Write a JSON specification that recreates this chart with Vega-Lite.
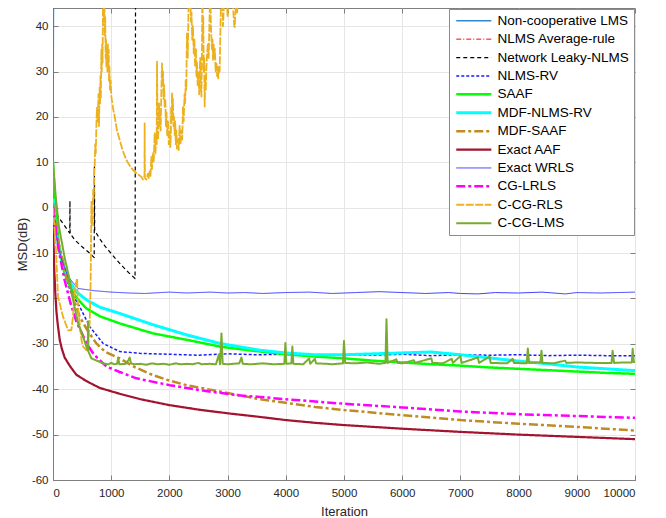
{
  "$schema": "https://vega.github.io/schema/vega-lite/v6.json",
  "width": 582,
  "height": 472,
  "autosize": {"type": "none"},
  "padding": {"left": 53, "top": 8, "right": 31, "bottom": 38},
  "background": "white",
  "config": {
    "font": "Liberation Sans",
    "view": {"stroke": "#7f7f7f", "strokeWidth": 1},
    "axis": {
      "domainColor": "#7f7f7f",
      "tickColor": "#7f7f7f",
      "gridColor": "#e6e6e6",
      "labelColor": "#262626",
      "titleColor": "#262626",
      "labelFontSize": 11.5,
      "titleFontSize": 13,
      "titleFontWeight": "normal",
      "tickSize": -5
    }
  },
  "data": {
    "values": [
      {"s":"Non-cooperative LMS","x":0,"y":11},{"s":"Non-cooperative LMS","x":8,"y":45},{"s":"Non-cooperative LMS","x":15,"y":120},{"s":"Non-cooperative LMS","x":10000,"y":120},

      {"s":"NLMS Average-rule","x":0,"y":0},{"s":"NLMS Average-rule","x":10,"y":-8},{"s":"NLMS Average-rule","x":20,"y":-13},{"s":"NLMS Average-rule","x":40,"y":-19},{"s":"NLMS Average-rule","x":60,"y":-23},{"s":"NLMS Average-rule","x":80,"y":-25.5},{"s":"NLMS Average-rule","x":115,"y":-29.1},{"s":"NLMS Average-rule","x":150,"y":-31},{"s":"NLMS Average-rule","x":200,"y":-33},{"s":"NLMS Average-rule","x":286,"y":-34.8},{"s":"NLMS Average-rule","x":400,"y":-36.8},{"s":"NLMS Average-rule","x":573,"y":-38.2},{"s":"NLMS Average-rule","x":800,"y":-39.7},{"s":"NLMS Average-rule","x":1146,"y":-41},{"s":"NLMS Average-rule","x":1500,"y":-42.2},{"s":"NLMS Average-rule","x":2000,"y":-43.5},{"s":"NLMS Average-rule","x":3000,"y":-45.3},{"s":"NLMS Average-rule","x":4000,"y":-46.8},{"s":"NLMS Average-rule","x":5000,"y":-47.9},{"s":"NLMS Average-rule","x":6000,"y":-48.7},{"s":"NLMS Average-rule","x":7000,"y":-49.4},{"s":"NLMS Average-rule","x":8000,"y":-50},{"s":"NLMS Average-rule","x":9000,"y":-50.5},{"s":"NLMS Average-rule","x":10000,"y":-51},

      {"s":"Network Leaky-NLMS","x":0,"y":0},{"s":"Network Leaky-NLMS","x":100,"y":-2.2},{"s":"Network Leaky-NLMS","x":200,"y":-4},{"s":"Network Leaky-NLMS","x":288,"y":-5.6},{"s":"Network Leaky-NLMS","x":291,"y":1.5},{"s":"Network Leaky-NLMS","x":294,"y":-5.7},{"s":"Network Leaky-NLMS","x":375,"y":-7.1},{"s":"Network Leaky-NLMS","x":500,"y":-8.6},{"s":"Network Leaky-NLMS","x":630,"y":-10},{"s":"Network Leaky-NLMS","x":708,"y":-11},{"s":"Network Leaky-NLMS","x":712,"y":9},{"s":"Network Leaky-NLMS","x":716,"y":-5},{"s":"Network Leaky-NLMS","x":800,"y":-6.8},{"s":"Network Leaky-NLMS","x":900,"y":-8.6},{"s":"Network Leaky-NLMS","x":1000,"y":-10.1},{"s":"Network Leaky-NLMS","x":1100,"y":-11.6},{"s":"Network Leaky-NLMS","x":1200,"y":-13},{"s":"Network Leaky-NLMS","x":1300,"y":-14.3},{"s":"Network Leaky-NLMS","x":1410,"y":-15.6},{"s":"Network Leaky-NLMS","x":1420,"y":60},{"s":"Network Leaky-NLMS","x":10000,"y":60},

      {"s":"NLMS-RV","x":0,"y":0},{"s":"NLMS-RV","x":50,"y":-5},{"s":"NLMS-RV","x":100,"y":-9},{"s":"NLMS-RV","x":200,"y":-14.5},{"s":"NLMS-RV","x":300,"y":-18.5},{"s":"NLMS-RV","x":458,"y":-21.8},{"s":"NLMS-RV","x":630,"y":-26.2},{"s":"NLMS-RV","x":860,"y":-29.9},{"s":"NLMS-RV","x":1146,"y":-31.7},{"s":"NLMS-RV","x":1500,"y":-32.1},{"s":"NLMS-RV","x":2000,"y":-32.3},{"s":"NLMS-RV","x":2500,"y":-32.5},{"s":"NLMS-RV","x":3000,"y":-32.2},{"s":"NLMS-RV","x":3500,"y":-32.4},{"s":"NLMS-RV","x":4000,"y":-32.3},{"s":"NLMS-RV","x":4500,"y":-32.6},{"s":"NLMS-RV","x":5000,"y":-32.4},{"s":"NLMS-RV","x":5500,"y":-32.5},{"s":"NLMS-RV","x":6000,"y":-32.3},{"s":"NLMS-RV","x":6500,"y":-32.6},{"s":"NLMS-RV","x":7000,"y":-32.4},{"s":"NLMS-RV","x":7500,"y":-32.5},{"s":"NLMS-RV","x":8000,"y":-32.4},{"s":"NLMS-RV","x":8500,"y":-32.6},{"s":"NLMS-RV","x":9000,"y":-32.5},{"s":"NLMS-RV","x":9500,"y":-32.6},{"s":"NLMS-RV","x":10000,"y":-32.6},

      {"s":"SAAF","x":0,"y":10},{"s":"SAAF","x":30,"y":3},{"s":"SAAF","x":60,"y":-3},{"s":"SAAF","x":100,"y":-8},{"s":"SAAF","x":150,"y":-12},{"s":"SAAF","x":200,"y":-14.5},{"s":"SAAF","x":300,"y":-17.5},{"s":"SAAF","x":400,"y":-19.8},{"s":"SAAF","x":573,"y":-22.2},{"s":"SAAF","x":800,"y":-23.9},{"s":"SAAF","x":1146,"y":-25.5},{"s":"SAAF","x":1719,"y":-27.7},{"s":"SAAF","x":2292,"y":-29.1},{"s":"SAAF","x":2865,"y":-30.6},{"s":"SAAF","x":3553,"y":-31.7},{"s":"SAAF","x":4000,"y":-32.3},{"s":"SAAF","x":4500,"y":-32.8},{"s":"SAAF","x":5000,"y":-33.2},{"s":"SAAF","x":5500,"y":-33.7},{"s":"SAAF","x":6000,"y":-34.1},{"s":"SAAF","x":6500,"y":-34.5},{"s":"SAAF","x":7000,"y":-34.8},{"s":"SAAF","x":7500,"y":-35.2},{"s":"SAAF","x":8000,"y":-35.5},{"s":"SAAF","x":8500,"y":-35.8},{"s":"SAAF","x":9000,"y":-36.1},{"s":"SAAF","x":9500,"y":-36.4},{"s":"SAAF","x":10000,"y":-36.6},

      {"s":"MDF-NLMS-RV","x":0,"y":2},{"s":"MDF-NLMS-RV","x":50,"y":-5},{"s":"MDF-NLMS-RV","x":100,"y":-9},{"s":"MDF-NLMS-RV","x":200,"y":-13.5},{"s":"MDF-NLMS-RV","x":300,"y":-16.5},{"s":"MDF-NLMS-RV","x":400,"y":-18.5},{"s":"MDF-NLMS-RV","x":573,"y":-20.3},{"s":"MDF-NLMS-RV","x":800,"y":-21.9},{"s":"MDF-NLMS-RV","x":1146,"y":-23.3},{"s":"MDF-NLMS-RV","x":1719,"y":-25.8},{"s":"MDF-NLMS-RV","x":2292,"y":-28},{"s":"MDF-NLMS-RV","x":2865,"y":-29.9},{"s":"MDF-NLMS-RV","x":3553,"y":-31.4},{"s":"MDF-NLMS-RV","x":4000,"y":-32},{"s":"MDF-NLMS-RV","x":4500,"y":-32.4},{"s":"MDF-NLMS-RV","x":5000,"y":-32.4},{"s":"MDF-NLMS-RV","x":5500,"y":-32.2},{"s":"MDF-NLMS-RV","x":6000,"y":-32},{"s":"MDF-NLMS-RV","x":6500,"y":-31.8},{"s":"MDF-NLMS-RV","x":7000,"y":-32.4},{"s":"MDF-NLMS-RV","x":7500,"y":-33.1},{"s":"MDF-NLMS-RV","x":8000,"y":-33.8},{"s":"MDF-NLMS-RV","x":8500,"y":-34.4},{"s":"MDF-NLMS-RV","x":9000,"y":-35.1},{"s":"MDF-NLMS-RV","x":9500,"y":-35.5},{"s":"MDF-NLMS-RV","x":10000,"y":-35.9},

      {"s":"MDF-SAAF","x":0,"y":1},{"s":"MDF-SAAF","x":50,"y":-4},{"s":"MDF-SAAF","x":100,"y":-8},{"s":"MDF-SAAF","x":200,"y":-13.5},{"s":"MDF-SAAF","x":300,"y":-18},{"s":"MDF-SAAF","x":458,"y":-24},{"s":"MDF-SAAF","x":600,"y":-27.2},{"s":"MDF-SAAF","x":745,"y":-29.9},{"s":"MDF-SAAF","x":900,"y":-31.8},{"s":"MDF-SAAF","x":1146,"y":-33.2},{"s":"MDF-SAAF","x":1400,"y":-35.1},{"s":"MDF-SAAF","x":1719,"y":-36.9},{"s":"MDF-SAAF","x":2000,"y":-38.1},{"s":"MDF-SAAF","x":2292,"y":-39.1},{"s":"MDF-SAAF","x":2865,"y":-40.5},{"s":"MDF-SAAF","x":3553,"y":-42.2},{"s":"MDF-SAAF","x":4000,"y":-43},{"s":"MDF-SAAF","x":4500,"y":-43.9},{"s":"MDF-SAAF","x":5000,"y":-44.6},{"s":"MDF-SAAF","x":6000,"y":-45.7},{"s":"MDF-SAAF","x":7000,"y":-46.8},{"s":"MDF-SAAF","x":8000,"y":-47.6},{"s":"MDF-SAAF","x":9000,"y":-48.3},{"s":"MDF-SAAF","x":10000,"y":-49.1},

      {"s":"Exact AAF","x":0,"y":0},{"s":"Exact AAF","x":10,"y":-8},{"s":"Exact AAF","x":20,"y":-13},{"s":"Exact AAF","x":40,"y":-19},{"s":"Exact AAF","x":60,"y":-23},{"s":"Exact AAF","x":80,"y":-25.5},{"s":"Exact AAF","x":115,"y":-29.1},{"s":"Exact AAF","x":150,"y":-31},{"s":"Exact AAF","x":200,"y":-33},{"s":"Exact AAF","x":286,"y":-34.8},{"s":"Exact AAF","x":400,"y":-36.8},{"s":"Exact AAF","x":573,"y":-38.2},{"s":"Exact AAF","x":800,"y":-39.7},{"s":"Exact AAF","x":1146,"y":-41},{"s":"Exact AAF","x":1500,"y":-42.2},{"s":"Exact AAF","x":2000,"y":-43.5},{"s":"Exact AAF","x":2500,"y":-44.5},{"s":"Exact AAF","x":3000,"y":-45.3},{"s":"Exact AAF","x":3553,"y":-46.1},{"s":"Exact AAF","x":4000,"y":-46.8},{"s":"Exact AAF","x":4500,"y":-47.4},{"s":"Exact AAF","x":5000,"y":-47.9},{"s":"Exact AAF","x":6000,"y":-48.7},{"s":"Exact AAF","x":7000,"y":-49.4},{"s":"Exact AAF","x":8000,"y":-50},{"s":"Exact AAF","x":9000,"y":-50.5},{"s":"Exact AAF","x":10000,"y":-51},

      {"s":"Exact WRLS","x":0,"y":0},{"s":"Exact WRLS","x":29,"y":-4.2},{"s":"Exact WRLS","x":100,"y":-9},{"s":"Exact WRLS","x":150,"y":-11.5},{"s":"Exact WRLS","x":258,"y":-15.2},{"s":"Exact WRLS","x":430,"y":-17.8},{"s":"Exact WRLS","x":716,"y":-18.3},{"s":"Exact WRLS","x":1003,"y":-18.6},{"s":"Exact WRLS","x":1300,"y":-18.8},{"s":"Exact WRLS","x":1576,"y":-18.9},{"s":"Exact WRLS","x":2000,"y":-18.6},{"s":"Exact WRLS","x":2300,"y":-18.8},{"s":"Exact WRLS","x":2700,"y":-18.6},{"s":"Exact WRLS","x":3000,"y":-18.8},{"s":"Exact WRLS","x":3300,"y":-18.7},{"s":"Exact WRLS","x":3600,"y":-18.9},{"s":"Exact WRLS","x":4000,"y":-18.7},{"s":"Exact WRLS","x":4400,"y":-18.6},{"s":"Exact WRLS","x":4800,"y":-18.9},{"s":"Exact WRLS","x":5200,"y":-18.7},{"s":"Exact WRLS","x":5600,"y":-18.5},{"s":"Exact WRLS","x":6000,"y":-18.7},{"s":"Exact WRLS","x":6400,"y":-18.9},{"s":"Exact WRLS","x":6800,"y":-18.7},{"s":"Exact WRLS","x":7000,"y":-18.9},{"s":"Exact WRLS","x":7300,"y":-19},{"s":"Exact WRLS","x":7600,"y":-18.7},{"s":"Exact WRLS","x":8000,"y":-18.8},{"s":"Exact WRLS","x":8400,"y":-18.6},{"s":"Exact WRLS","x":8800,"y":-19},{"s":"Exact WRLS","x":9000,"y":-18.7},{"s":"Exact WRLS","x":9400,"y":-18.8},{"s":"Exact WRLS","x":9700,"y":-18.7},{"s":"Exact WRLS","x":10000,"y":-18.6},

      {"s":"CG-LRLS","x":0,"y":0},{"s":"CG-LRLS","x":50,"y":-5},{"s":"CG-LRLS","x":100,"y":-9.5},{"s":"CG-LRLS","x":200,"y":-16},{"s":"CG-LRLS","x":300,"y":-21},{"s":"CG-LRLS","x":400,"y":-25},{"s":"CG-LRLS","x":573,"y":-29.8},{"s":"CG-LRLS","x":700,"y":-32.3},{"s":"CG-LRLS","x":917,"y":-35},{"s":"CG-LRLS","x":1146,"y":-36.2},{"s":"CG-LRLS","x":1432,"y":-37.6},{"s":"CG-LRLS","x":2005,"y":-39.1},{"s":"CG-LRLS","x":2578,"y":-40.3},{"s":"CG-LRLS","x":3151,"y":-41.3},{"s":"CG-LRLS","x":3553,"y":-41.7},{"s":"CG-LRLS","x":4000,"y":-42.2},{"s":"CG-LRLS","x":5000,"y":-43.2},{"s":"CG-LRLS","x":6000,"y":-44},{"s":"CG-LRLS","x":7000,"y":-44.9},{"s":"CG-LRLS","x":8000,"y":-45.5},{"s":"CG-LRLS","x":9000,"y":-45.9},{"s":"CG-LRLS","x":10000,"y":-46.3},

      {"s":"C-CG-RLS","x":0,"y":0},{"s":"C-CG-RLS","x":50,"y":-9},{"s":"C-CG-RLS","x":86,"y":-19.6},{"s":"C-CG-RLS","x":172,"y":-24},{"s":"C-CG-RLS","x":258,"y":-27},{"s":"C-CG-RLS","x":315,"y":-27},{"s":"C-CG-RLS","x":344,"y":-24},{"s":"C-CG-RLS","x":373,"y":-18.1},{"s":"C-CG-RLS","x":413,"y":-15.6},{"s":"C-CG-RLS","x":430,"y":-22},{"s":"C-CG-RLS","x":487,"y":-29},{"s":"C-CG-RLS","x":516,"y":-30.6},{"s":"C-CG-RLS","x":573,"y":-31.4},{"s":"C-CG-RLS","x":602,"y":-30.5},{"s":"C-CG-RLS","x":630,"y":-25.4},{"s":"C-CG-RLS","x":645,"y":-18},{"s":"C-CG-RLS","x":652,"y":-10},{"s":"C-CG-RLS","x":660,"y":1.3},{"s":"C-CG-RLS","x":668,"y":-4},{"s":"C-CG-RLS","x":680,"y":-3},{"s":"C-CG-RLS","x":690,"y":4},{"s":"C-CG-RLS","x":700,"y":2},{"s":"C-CG-RLS","x":708,"y":8},{"s":"C-CG-RLS","x":716,"y":9},{"s":"C-CG-RLS","x":725,"y":14},{"s":"C-CG-RLS","x":735,"y":12},{"s":"C-CG-RLS","x":745,"y":17.9},{"s":"C-CG-RLS","x":755,"y":22},{"s":"C-CG-RLS","x":765,"y":19},{"s":"C-CG-RLS","x":773,"y":21.5},{"s":"C-CG-RLS","x":782,"y":25},{"s":"C-CG-RLS","x":790,"y":18},{"s":"C-CG-RLS","x":802,"y":26.7},{"s":"C-CG-RLS","x":810,"y":23},{"s":"C-CG-RLS","x":815,"y":29},{"s":"C-CG-RLS","x":822,"y":24},{"s":"C-CG-RLS","x":831,"y":34.8},{"s":"C-CG-RLS","x":838,"y":30},{"s":"C-CG-RLS","x":845,"y":36},{"s":"C-CG-RLS","x":852,"y":32},{"s":"C-CG-RLS","x":859,"y":45},{"s":"C-CG-RLS","x":870,"y":52},{"s":"C-CG-RLS","x":877,"y":41},{"s":"C-CG-RLS","x":884,"y":45},{"s":"C-CG-RLS","x":890,"y":38},{"s":"C-CG-RLS","x":897,"y":42},{"s":"C-CG-RLS","x":905,"y":33},{"s":"C-CG-RLS","x":911,"y":37},{"s":"C-CG-RLS","x":917,"y":31.1},{"s":"C-CG-RLS","x":925,"y":35},{"s":"C-CG-RLS","x":935,"y":30},{"s":"C-CG-RLS","x":942,"y":36},{"s":"C-CG-RLS","x":950,"y":30},{"s":"C-CG-RLS","x":957,"y":34.8},{"s":"C-CG-RLS","x":963,"y":28},{"s":"C-CG-RLS","x":970,"y":31},{"s":"C-CG-RLS","x":980,"y":26},{"s":"C-CG-RLS","x":990,"y":28},{"s":"C-CG-RLS","x":1003,"y":24.5},{"s":"C-CG-RLS","x":1030,"y":22},{"s":"C-CG-RLS","x":1060,"y":20.1},{"s":"C-CG-RLS","x":1100,"y":17},{"s":"C-CG-RLS","x":1146,"y":14.9},{"s":"C-CG-RLS","x":1200,"y":12.5},{"s":"C-CG-RLS","x":1261,"y":10.5},{"s":"C-CG-RLS","x":1330,"y":9},{"s":"C-CG-RLS","x":1404,"y":7.9},{"s":"C-CG-RLS","x":1460,"y":7.4},{"s":"C-CG-RLS","x":1518,"y":6.8},{"s":"C-CG-RLS","x":1545,"y":6.2},{"s":"C-CG-RLS","x":1560,"y":6.6},{"s":"C-CG-RLS","x":1572,"y":7},{"s":"C-CG-RLS","x":1575,"y":18.6},{"s":"C-CG-RLS","x":1578,"y":6.6},{"s":"C-CG-RLS","x":1604,"y":6.2},{"s":"C-CG-RLS","x":1630,"y":7.5},{"s":"C-CG-RLS","x":1645,"y":6.5},{"s":"C-CG-RLS","x":1661,"y":8},{"s":"C-CG-RLS","x":1675,"y":7},{"s":"C-CG-RLS","x":1690,"y":11.2},{"s":"C-CG-RLS","x":1700,"y":8.5},{"s":"C-CG-RLS","x":1718,"y":12},{"s":"C-CG-RLS","x":1730,"y":10},{"s":"C-CG-RLS","x":1747,"y":16.4},{"s":"C-CG-RLS","x":1760,"y":12},{"s":"C-CG-RLS","x":1776,"y":16},{"s":"C-CG-RLS","x":1782,"y":14},{"s":"C-CG-RLS","x":1787,"y":32.2},{"s":"C-CG-RLS","x":1795,"y":20},{"s":"C-CG-RLS","x":1805,"y":15},{"s":"C-CG-RLS","x":1815,"y":19},{"s":"C-CG-RLS","x":1822,"y":23},{"s":"C-CG-RLS","x":1830,"y":18},{"s":"C-CG-RLS","x":1840,"y":21},{"s":"C-CG-RLS","x":1850,"y":17},{"s":"C-CG-RLS","x":1862,"y":26},{"s":"C-CG-RLS","x":1873,"y":31.8},{"s":"C-CG-RLS","x":1882,"y":27},{"s":"C-CG-RLS","x":1890,"y":30},{"s":"C-CG-RLS","x":1900,"y":24},{"s":"C-CG-RLS","x":1910,"y":27},{"s":"C-CG-RLS","x":1919,"y":22},{"s":"C-CG-RLS","x":1930,"y":24},{"s":"C-CG-RLS","x":1940,"y":18},{"s":"C-CG-RLS","x":1950,"y":21},{"s":"C-CG-RLS","x":1962,"y":16},{"s":"C-CG-RLS","x":1976,"y":19},{"s":"C-CG-RLS","x":1990,"y":14},{"s":"C-CG-RLS","x":2005,"y":17},{"s":"C-CG-RLS","x":2017,"y":13.4},{"s":"C-CG-RLS","x":2025,"y":16},{"s":"C-CG-RLS","x":2030,"y":22},{"s":"C-CG-RLS","x":2038,"y":19},{"s":"C-CG-RLS","x":2045,"y":25.2},{"s":"C-CG-RLS","x":2052,"y":21},{"s":"C-CG-RLS","x":2060,"y":24},{"s":"C-CG-RLS","x":2070,"y":18},{"s":"C-CG-RLS","x":2080,"y":20},{"s":"C-CG-RLS","x":2091,"y":16},{"s":"C-CG-RLS","x":2100,"y":19},{"s":"C-CG-RLS","x":2110,"y":14},{"s":"C-CG-RLS","x":2120,"y":17},{"s":"C-CG-RLS","x":2130,"y":13},{"s":"C-CG-RLS","x":2148,"y":15},{"s":"C-CG-RLS","x":2160,"y":12.7},{"s":"C-CG-RLS","x":2175,"y":18},{"s":"C-CG-RLS","x":2190,"y":14},{"s":"C-CG-RLS","x":2206,"y":17},{"s":"C-CG-RLS","x":2220,"y":15},{"s":"C-CG-RLS","x":2234,"y":22.3},{"s":"C-CG-RLS","x":2245,"y":19},{"s":"C-CG-RLS","x":2260,"y":25},{"s":"C-CG-RLS","x":2270,"y":23},{"s":"C-CG-RLS","x":2280,"y":28.1},{"s":"C-CG-RLS","x":2290,"y":26},{"s":"C-CG-RLS","x":2302,"y":38.4},{"s":"C-CG-RLS","x":2315,"y":33},{"s":"C-CG-RLS","x":2325,"y":41},{"s":"C-CG-RLS","x":2337,"y":50},{"s":"C-CG-RLS","x":2350,"y":44},{"s":"C-CG-RLS","x":2360,"y":47},{"s":"C-CG-RLS","x":2370,"y":41},{"s":"C-CG-RLS","x":2380,"y":43},{"s":"C-CG-RLS","x":2392,"y":37},{"s":"C-CG-RLS","x":2405,"y":40},{"s":"C-CG-RLS","x":2418,"y":34},{"s":"C-CG-RLS","x":2430,"y":37},{"s":"C-CG-RLS","x":2442,"y":31},{"s":"C-CG-RLS","x":2455,"y":35},{"s":"C-CG-RLS","x":2465,"y":29},{"s":"C-CG-RLS","x":2474,"y":32},{"s":"C-CG-RLS","x":2485,"y":27},{"s":"C-CG-RLS","x":2500,"y":30},{"s":"C-CG-RLS","x":2512,"y":25},{"s":"C-CG-RLS","x":2522,"y":31},{"s":"C-CG-RLS","x":2530,"y":33},{"s":"C-CG-RLS","x":2540,"y":27},{"s":"C-CG-RLS","x":2550,"y":24.5},{"s":"C-CG-RLS","x":2560,"y":35},{"s":"C-CG-RLS","x":2567,"y":50},{"s":"C-CG-RLS","x":2575,"y":38},{"s":"C-CG-RLS","x":2582,"y":42},{"s":"C-CG-RLS","x":2590,"y":30},{"s":"C-CG-RLS","x":2598,"y":33},{"s":"C-CG-RLS","x":2606,"y":22.3},{"s":"C-CG-RLS","x":2615,"y":28},{"s":"C-CG-RLS","x":2625,"y":26},{"s":"C-CG-RLS","x":2636,"y":31.1},{"s":"C-CG-RLS","x":2648,"y":34},{"s":"C-CG-RLS","x":2660,"y":36},{"s":"C-CG-RLS","x":2675,"y":33},{"s":"C-CG-RLS","x":2690,"y":42},{"s":"C-CG-RLS","x":2704,"y":50},{"s":"C-CG-RLS","x":2712,"y":41},{"s":"C-CG-RLS","x":2720,"y":38},{"s":"C-CG-RLS","x":2730,"y":35},{"s":"C-CG-RLS","x":2740,"y":37},{"s":"C-CG-RLS","x":2749,"y":32.6},{"s":"C-CG-RLS","x":2760,"y":36},{"s":"C-CG-RLS","x":2770,"y":33},{"s":"C-CG-RLS","x":2780,"y":35},{"s":"C-CG-RLS","x":2795,"y":30},{"s":"C-CG-RLS","x":2807,"y":32},{"s":"C-CG-RLS","x":2820,"y":29},{"s":"C-CG-RLS","x":2830,"y":31},{"s":"C-CG-RLS","x":2840,"y":28.5},{"s":"C-CG-RLS","x":2852,"y":31},{"s":"C-CG-RLS","x":2864,"y":30},{"s":"C-CG-RLS","x":2878,"y":40},{"s":"C-CG-RLS","x":2893,"y":50},{"s":"C-CG-RLS","x":2905,"y":44},{"s":"C-CG-RLS","x":2912,"y":47},{"s":"C-CG-RLS","x":2920,"y":40},{"s":"C-CG-RLS","x":2935,"y":44},{"s":"C-CG-RLS","x":2950,"y":50},{"s":"C-CG-RLS","x":2965,"y":46},{"s":"C-CG-RLS","x":2980,"y":48},{"s":"C-CG-RLS","x":3000,"y":42},{"s":"C-CG-RLS","x":3020,"y":46},{"s":"C-CG-RLS","x":3050,"y":45},{"s":"C-CG-RLS","x":3070,"y":48},{"s":"C-CG-RLS","x":3093,"y":44},{"s":"C-CG-RLS","x":3105,"y":42},{"s":"C-CG-RLS","x":3115,"y":40},{"s":"C-CG-RLS","x":3122,"y":39.8},{"s":"C-CG-RLS","x":3135,"y":43},{"s":"C-CG-RLS","x":3150,"y":45},{"s":"C-CG-RLS","x":3165,"y":43},{"s":"C-CG-RLS","x":3179,"y":48},{"s":"C-CG-RLS","x":3250,"y":60},{"s":"C-CG-RLS","x":10000,"y":60},

      {"s":"C-CG-LMS","x":0,"y":10},{"s":"C-CG-LMS","x":50,"y":2},{"s":"C-CG-LMS","x":100,"y":-4},{"s":"C-CG-LMS","x":200,"y":-11},{"s":"C-CG-LMS","x":287,"y":-16},{"s":"C-CG-LMS","x":344,"y":-20.3},{"s":"C-CG-LMS","x":430,"y":-25.4},{"s":"C-CG-LMS","x":516,"y":-28.4},{"s":"C-CG-LMS","x":573,"y":-30.6},{"s":"C-CG-LMS","x":598,"y":-31.5},{"s":"C-CG-LMS","x":602,"y":-25},{"s":"C-CG-LMS","x":606,"y":-31.6},{"s":"C-CG-LMS","x":659,"y":-33.2},{"s":"C-CG-LMS","x":716,"y":-33.5},{"s":"C-CG-LMS","x":860,"y":-34.3},{"s":"C-CG-LMS","x":950,"y":-34.5},{"s":"C-CG-LMS","x":1000,"y":-34.2},{"s":"C-CG-LMS","x":1050,"y":-34.5},{"s":"C-CG-LMS","x":1100,"y":-34.4},{"s":"C-CG-LMS","x":1120,"y":-33.2},{"s":"C-CG-LMS","x":1140,"y":-34.5},{"s":"C-CG-LMS","x":1250,"y":-34.4},{"s":"C-CG-LMS","x":1300,"y":-33.5},{"s":"C-CG-LMS","x":1318,"y":-33},{"s":"C-CG-LMS","x":1340,"y":-34.3},{"s":"C-CG-LMS","x":1400,"y":-34.5},{"s":"C-CG-LMS","x":1500,"y":-34.4},{"s":"C-CG-LMS","x":1600,"y":-34.6},{"s":"C-CG-LMS","x":1700,"y":-34.3},{"s":"C-CG-LMS","x":1800,"y":-34.5},{"s":"C-CG-LMS","x":1900,"y":-34.4},{"s":"C-CG-LMS","x":2000,"y":-34.6},{"s":"C-CG-LMS","x":2100,"y":-34.3},{"s":"C-CG-LMS","x":2200,"y":-34.5},{"s":"C-CG-LMS","x":2300,"y":-34.4},{"s":"C-CG-LMS","x":2400,"y":-34.5},{"s":"C-CG-LMS","x":2500,"y":-34.2},{"s":"C-CG-LMS","x":2550,"y":-34.5},{"s":"C-CG-LMS","x":2700,"y":-34.4},{"s":"C-CG-LMS","x":2800,"y":-34.5},{"s":"C-CG-LMS","x":2850,"y":-32.4},{"s":"C-CG-LMS","x":2870,"y":-34.5},{"s":"C-CG-LMS","x":2895,"y":-27.7},{"s":"C-CG-LMS","x":2915,"y":-34.4},{"s":"C-CG-LMS","x":3000,"y":-34.5},{"s":"C-CG-LMS","x":3200,"y":-34.3},{"s":"C-CG-LMS","x":3238,"y":-33},{"s":"C-CG-LMS","x":3260,"y":-34.4},{"s":"C-CG-LMS","x":3400,"y":-34.5},{"s":"C-CG-LMS","x":3600,"y":-34.3},{"s":"C-CG-LMS","x":3800,"y":-34.5},{"s":"C-CG-LMS","x":3975,"y":-34.4},{"s":"C-CG-LMS","x":3993,"y":-29.8},{"s":"C-CG-LMS","x":4010,"y":-34.4},{"s":"C-CG-LMS","x":4095,"y":-34.3},{"s":"C-CG-LMS","x":4113,"y":-30.6},{"s":"C-CG-LMS","x":4130,"y":-34.4},{"s":"C-CG-LMS","x":4300,"y":-34.5},{"s":"C-CG-LMS","x":4400,"y":-33.2},{"s":"C-CG-LMS","x":4420,"y":-34.4},{"s":"C-CG-LMS","x":4500,"y":-33.3},{"s":"C-CG-LMS","x":4520,"y":-34.3},{"s":"C-CG-LMS","x":4700,"y":-34.4},{"s":"C-CG-LMS","x":4800,"y":-34.5},{"s":"C-CG-LMS","x":4982,"y":-34.3},{"s":"C-CG-LMS","x":5000,"y":-29.4},{"s":"C-CG-LMS","x":5020,"y":-34.2},{"s":"C-CG-LMS","x":5200,"y":-34.3},{"s":"C-CG-LMS","x":5400,"y":-34.1},{"s":"C-CG-LMS","x":5600,"y":-34.4},{"s":"C-CG-LMS","x":5712,"y":-34.2},{"s":"C-CG-LMS","x":5730,"y":-24.6},{"s":"C-CG-LMS","x":5750,"y":-34.2},{"s":"C-CG-LMS","x":5900,"y":-33.4},{"s":"C-CG-LMS","x":5920,"y":-34.2},{"s":"C-CG-LMS","x":6000,"y":-34.3},{"s":"C-CG-LMS","x":6200,"y":-33.6},{"s":"C-CG-LMS","x":6220,"y":-34.2},{"s":"C-CG-LMS","x":6500,"y":-33.2},{"s":"C-CG-LMS","x":6520,"y":-34.2},{"s":"C-CG-LMS","x":6700,"y":-34.3},{"s":"C-CG-LMS","x":6850,"y":-33.3},{"s":"C-CG-LMS","x":6870,"y":-34.2},{"s":"C-CG-LMS","x":7000,"y":-32.7},{"s":"C-CG-LMS","x":7020,"y":-34.2},{"s":"C-CG-LMS","x":7300,"y":-33},{"s":"C-CG-LMS","x":7320,"y":-34.2},{"s":"C-CG-LMS","x":7500,"y":-32.8},{"s":"C-CG-LMS","x":7520,"y":-34.2},{"s":"C-CG-LMS","x":7800,"y":-34.3},{"s":"C-CG-LMS","x":7900,"y":-33.3},{"s":"C-CG-LMS","x":7920,"y":-34.2},{"s":"C-CG-LMS","x":8140,"y":-34.3},{"s":"C-CG-LMS","x":8158,"y":-31},{"s":"C-CG-LMS","x":8180,"y":-34.2},{"s":"C-CG-LMS","x":8375,"y":-34.1},{"s":"C-CG-LMS","x":8393,"y":-31.5},{"s":"C-CG-LMS","x":8410,"y":-34.2},{"s":"C-CG-LMS","x":8600,"y":-34.3},{"s":"C-CG-LMS","x":8800,"y":-33.7},{"s":"C-CG-LMS","x":8820,"y":-34.2},{"s":"C-CG-LMS","x":9000,"y":-34.1},{"s":"C-CG-LMS","x":9300,"y":-34.2},{"s":"C-CG-LMS","x":9597,"y":-34.2},{"s":"C-CG-LMS","x":9615,"y":-31.5},{"s":"C-CG-LMS","x":9640,"y":-34.2},{"s":"C-CG-LMS","x":9800,"y":-34.1},{"s":"C-CG-LMS","x":9945,"y":-34.1},{"s":"C-CG-LMS","x":9960,"y":-31.1},{"s":"C-CG-LMS","x":9980,"y":-34},{"s":"C-CG-LMS","x":10000,"y":-34}
    ]
  },
  "resolve": {"axis": {"x": "independent", "y": "independent"}},
  "layer": [
    {
      "mark": {"type": "line", "clip": true, "strokeCap": "butt", "strokeJoin": "round"},
      "encoding": {
        "x": {
          "field": "x", "type": "quantitative",
          "scale": {"domain": [0, 10000], "nice": false},
          "axis": {"orient": "bottom", "title": "Iteration", "values": [0,1000,2000,3000,4000,5000,6000,7000,8000,9000,10000], "format": "d", "labelPadding": 12, "titlePadding": 7, "grid": true}
        },
        "y": {
          "field": "y", "type": "quantitative",
          "scale": {"domain": [-60, 44], "nice": false, "zero": false},
          "axis": {"orient": "left", "title": "MSD(dB)", "values": [-60,-50,-40,-30,-20,-10,0,10,20,30,40], "labelExpr": "datum.value < 0 ? '-' + abs(datum.value) : '' + datum.value", "labelPadding": 10, "titlePadding": 2, "grid": true}
        },
        "color": {
          "field": "s", "type": "nominal",
          "scale": {
            "domain": ["Non-cooperative LMS","NLMS Average-rule","Network Leaky-NLMS","NLMS-RV","SAAF","MDF-NLMS-RV","MDF-SAAF","Exact AAF","Exact WRLS","CG-LRLS","C-CG-RLS","C-CG-LMS"],
            "range": ["#3288cc","#ff0000","#000000","#1a1aff","#00ff00","#00ffff","#bf8b22","#a2142f","#3c3cff","#ff00ff","#edb120","#77ac30"]
          },
          "legend": {
            "title": null, "orient": "top-right", "offset": 1,
            "symbolType": "M-1,0H6.8", "symbolSize": 81,
            "labelFontSize": 13.5, "labelColor": "#000000", "labelLimit": 300, "labelOffset": 30,
            "rowPadding": 3.4, "padding": 5,
            "fillColor": "white", "strokeColor": "#8c8c8c"
          }
        },
        "strokeDash": {
          "field": "s", "type": "nominal",
          "scale": {
            "domain": ["Non-cooperative LMS","NLMS Average-rule","Network Leaky-NLMS","NLMS-RV","SAAF","MDF-NLMS-RV","MDF-SAAF","Exact AAF","Exact WRLS","CG-LRLS","C-CG-RLS","C-CG-LMS"],
            "range": [[1,0],[5,2,1,2],[4,3],[3,2],[1,0],[1,0],[9,3,3,3],[1,0],[1,0],[9,3,3,3],[8,1.5],[1,0]]
          },
          "legend": {"title": null}
        },
        "strokeWidth": {
          "field": "s", "type": "nominal",
          "scale": {
            "type": "ordinal",
            "domain": ["Non-cooperative LMS","NLMS Average-rule","Network Leaky-NLMS","NLMS-RV","SAAF","MDF-NLMS-RV","MDF-SAAF","Exact AAF","Exact WRLS","CG-LRLS","C-CG-RLS","C-CG-LMS"],
            "range": [1.5,1,1.2,1.5,2.5,3,2.5,2.2,1,2.5,1.8,2]
          },
          "legend": {"title": null}
        }
      }
    },
    {
      "mark": {"type": "point", "opacity": 0, "clip": true},
      "encoding": {
        "x": {"field": "x", "type": "quantitative", "axis": {"orient": "top", "values": [0,1000,2000,3000,4000,5000,6000,7000,8000,9000,10000], "labels": false, "title": null, "grid": false, "domain": false}},
        "y": {"field": "y", "type": "quantitative", "axis": {"orient": "right", "values": [-60,-50,-40,-30,-20,-10,0,10,20,30,40], "labels": false, "title": null, "grid": false, "domain": false}}
      }
    }
  ]
}
